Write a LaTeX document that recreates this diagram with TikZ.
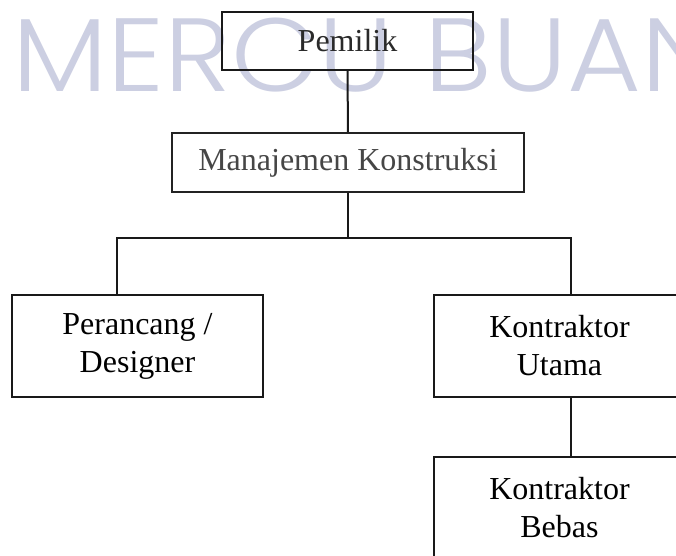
\documentclass[tikz,border=0pt]{standalone}
\usepackage{fontspec}
\setmainfont{Liberation Serif}
\newfontfamily\markfont{Poppins}[UprightFont=* Light]
\definecolor{markcol}{RGB}{204,207,226}
\definecolor{linecol}{RGB}{25,25,25}
\definecolor{softtext}{RGB}{70,70,70}
\begin{document}
\begin{tikzpicture}[x=0.5pt,y=-0.5pt,
  box/.style={draw=linecol, line width=1pt, inner sep=0pt, align=center,
    minimum width=125.5pt, minimum height=51pt,
    font=\fontsize{16}{19}\selectfont},
  link/.style={draw=linecol, line width=1pt}]
\useasboundingbox (0,0) rectangle (676,556);
\clip (0,0) rectangle (676,556);
\fill[white] (0,0) rectangle (676,556);

% background lettering
\node[anchor=base west, inner sep=0pt, text=markcol, xscale=1.09,
  font=\markfont\fontsize{52}{52}\selectfont] (mark) at (12,92) {MERCU BUANA};

% organisation boxes
\node[box, minimum height=29pt, text=softtext!60!black] (pemilik) at (347.5,41) {Pemilik};
\node[box, minimum width=176pt, minimum height=29.5pt, text=softtext, draw=softtext!50!black] (mk) at (348,162.5) {Manajemen Konstruksi};
\node[box] (perancang) at (137.5,346) {Perancang /\\Designer};
\node[box] (utama) at (559.5,346) {Kontraktor\\Utama};
\node[box] (bebas) at (559.5,508) {Kontraktor\\Bebas};

% branch points
\coordinate (busL) at (117,238);
\coordinate (busR) at (571,238);

% connectors
\draw[link] (pemilik.south) -- (mk.north);
\draw[link] (mk.south) -- (mk.south |- busL);
\draw[link] (perancang.north -| busL) -- (busL) -- (busR) -- (utama.north -| busR);
\draw[link] (utama.south -| busR) -- (bebas.north -| busR);
\end{tikzpicture}
\end{document}
